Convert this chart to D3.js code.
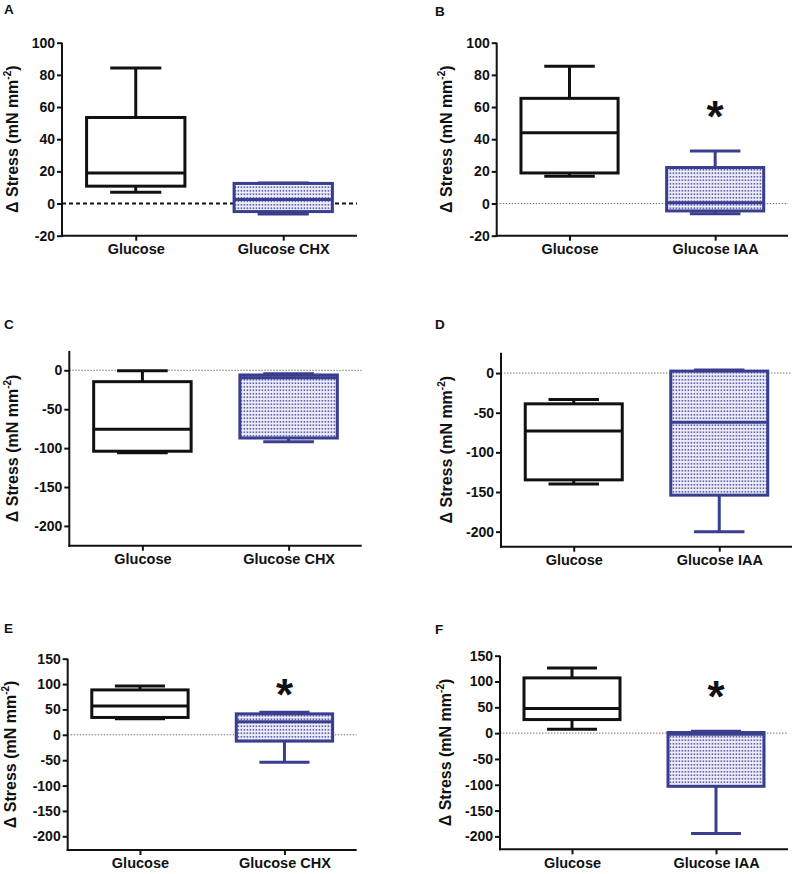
<!DOCTYPE html>
<html><head><meta charset="utf-8">
<script src="https://cdn.jsdelivr.net/npm/d3@7"></script>
<style>
html,body{margin:0;padding:0;background:#fff;}
svg text{font-family:"Liberation Sans",Arial,sans-serif;font-weight:bold;fill:#111;}
</style></head>
<body>
<svg id="chart" width="800" height="874"></svg>
<script>
// ---------- data ----------
const panelLabels = ["A", "B", "C", "D", "E", "F"];
const categoriesCHX = ["Glucose", "Glucose CHX"];
const categoriesIAA = ["Glucose", "Glucose IAA"];
const ticksAB = [-20, 0, 20, 40, 60, 80, 100];
const ticksCD = [-200, -150, -100, -50, 0];
const ticksEF = [-200, -150, -100, -50, 0, 50, 100, 150];
// each box: [min, q1, median, q3, max]
const boxesA = [[7, 10.8, 19, 53.5, 84.3], [-6.5, -5, 2.5, 12.5, 12.8]];
const boxesB = [[17, 19, 44, 65.4, 85.3], [-6.4, -4.6, 0.5, 22.4, 32.7]];
const boxesC = [[-106, -104, -75.6, -14.6, -0.5], [-91.8, -87, -9.5, -6, -4.3]];
const boxesD = [[-140, -134.7, -73, -38.8, -33.2], [-200, -154, -62, 2.5, 3.8]];
const boxesE = [[31.5, 34.2, 57, 88.5, 96.4], [-54.3, -12.4, 25.6, 41.3, 44.6]];
const boxesF = [[7.7, 26.3, 47.5, 107, 126], [-194.5, -103, -2, 1.2, 3.8]];
// significance star over treated group: value level of the star centre (null = none)
const starLevels = [null, 58, null, null, 92, 83.5];
const yLabel = "Δ Stress (mN mm";

// ---------- layout ----------
const panels = [
  {label: panelLabels[0], cats: categoriesCHX, boxes: boxesA, ticks: ticksAB, domain: [-20, 100], left: 62, right: 357, top: 42.7, bottom: 235.7, lx: 4, ly: 14, labx: 18, zeroStyle: "dash"},
  {label: panelLabels[1], cats: categoriesIAA, boxes: boxesB, ticks: ticksAB, domain: [-20, 100], left: 496.7, right: 788, top: 42.7, bottom: 235.7, lx: 435, ly: 16, labx: 452},
  {label: panelLabels[2], cats: categoriesCHX, boxes: boxesC, ticks: ticksCD, domain: [-225.4, 24.8], left: 69.3, right: 361.7, top: 351, bottom: 545.7, lx: 4, ly: 328.5, labx: 18},
  {label: panelLabels[3], cats: categoriesIAA, boxes: boxesD, ticks: ticksCD, domain: [-219, 25.7], left: 501, right: 792, top: 352.7, bottom: 546.7, lx: 435, ly: 328.5, labx: 452},
  {label: panelLabels[4], cats: categoriesCHX, boxes: boxesE, ticks: ticksEF, domain: [-227, 150], left: 67.7, right: 356.7, top: 658.7, bottom: 850, lx: 4, ly: 633, labx: 16},
  {label: panelLabels[5], cats: categoriesIAA, boxes: boxesF, ticks: ticksEF, domain: [-225, 150], left: 500, right: 788, top: 655.7, bottom: 849.3, lx: 435, ly: 634, labx: 451}
];
panels.forEach((p, i) => p.star = starLevels[i]);

const colors = ["#111111", "#3a3e8e"];
const svg = d3.select("#chart");

const defs = svg.append("defs");
const pat = defs.append("pattern").attr("id", "dots").attr("patternUnits", "userSpaceOnUse")
  .attr("width", 3).attr("height", 3.5);
pat.append("rect").attr("width", 3).attr("height", 3.5).attr("fill", "#eeeef8");
pat.append("rect").attr("x", 0.6).attr("y", 1).attr("width", 1.6).attr("height", 1.5).attr("fill", "#4a4e9e");

const fmt = d => String(d);

panels.forEach(p => {
  const g = svg.append("g");
  const y = d3.scaleLinear().domain(p.domain).range([p.bottom, p.top]);
  const x = d3.scalePoint().domain(p.cats).range([p.left, p.right]).padding(0.5);
  const plotW = p.right - p.left;
  const boxW = plotW / 3;
  const capW = boxW * 0.52;

  // panel letter
  g.append("text").attr("x", p.lx).attr("y", p.ly).attr("font-size", 13.5).text(p.label);

  // zero reference line
  const zl = g.append("line").attr("x1", p.left).attr("x2", p.right).attr("y1", y(0)).attr("y2", y(0));
  if (p.zeroStyle === "dash") {
    zl.attr("stroke", "#111").attr("stroke-width", 2).attr("stroke-dasharray", "4,3");
  } else {
    zl.attr("stroke", "#777").attr("stroke-width", 1).attr("stroke-dasharray", "1.5,1.5");
  }

  // y axis
  const yAxis = d3.axisLeft(y).tickValues(p.ticks).tickSize(5).tickPadding(2).tickFormat(fmt);
  const ya = g.append("g").attr("transform", `translate(${p.left},0)`).call(yAxis);
  ya.select(".domain").remove();
  ya.selectAll(".tick line").attr("stroke", "#111").attr("stroke-width", 2);
  ya.selectAll(".tick text").attr("font-size", 14).attr("font-family", "'Liberation Sans', Arial, sans-serif").attr("font-weight", "bold").attr("fill", "#111");
  g.append("line").attr("x1", p.left).attr("x2", p.left).attr("y1", p.top).attr("y2", p.bottom + 1)
    .attr("stroke", "#111").attr("stroke-width", 2);

  // x axis
  const xAxis = d3.axisBottom(x).tickSize(5).tickPadding(3);
  const xa = g.append("g").attr("transform", `translate(0,${p.bottom})`).call(xAxis);
  xa.select(".domain").remove();
  xa.selectAll(".tick line").attr("stroke", "#111").attr("stroke-width", 2);
  xa.selectAll(".tick text").attr("font-size", 14.5).attr("font-family", "'Liberation Sans', Arial, sans-serif").attr("font-weight", "bold").attr("fill", "#111");
  g.append("line").attr("x1", p.left - 1).attr("x2", p.right).attr("y1", p.bottom).attr("y2", p.bottom)
    .attr("stroke", "#111").attr("stroke-width", 2);

  // y label
  const yl = g.append("text").attr("font-size", 16).attr("text-anchor", "middle")
    .attr("transform", `translate(${p.labx},${(p.top + p.bottom) / 2}) rotate(-90)`);
  yl.append("tspan").text(yLabel);
  yl.append("tspan").attr("font-size", 10).attr("dy", -7).text("-2");
  yl.append("tspan").attr("dy", 7).text(")");

  // boxes
  p.boxes.forEach((b, i) => {
    const cx = x(p.cats[i]);
    const [mn, q1, md, q3, mx] = b;
    const col = colors[i];
    const bg = g.append("g").attr("stroke", col).attr("stroke-width", 3).attr("fill", "none");
    bg.append("line").attr("x1", cx).attr("x2", cx).attr("y1", y(q3)).attr("y2", y(mx));
    bg.append("line").attr("x1", cx).attr("x2", cx).attr("y1", y(q1)).attr("y2", y(mn));
    bg.append("line").attr("x1", cx - capW / 2).attr("x2", cx + capW / 2).attr("y1", y(mx)).attr("y2", y(mx));
    bg.append("line").attr("x1", cx - capW / 2).attr("x2", cx + capW / 2).attr("y1", y(mn)).attr("y2", y(mn));
    bg.append("rect").attr("x", cx - boxW / 2).attr("width", boxW)
      .attr("y", y(q3)).attr("height", Math.max(0.5, y(q1) - y(q3)))
      .attr("fill", i === 0 ? "#fff" : "url(#dots)");
    bg.append("line").attr("x1", cx - boxW / 2).attr("x2", cx + boxW / 2).attr("y1", y(md)).attr("y2", y(md));
  });

  if (p.star !== null) {
    const cx = x(p.cats[1]);
    g.append("text").attr("x", cx).attr("y", y(p.star) + 22).attr("text-anchor", "middle")
      .attr("font-size", 44).text("*");
  }
});
</script>
</body></html>
